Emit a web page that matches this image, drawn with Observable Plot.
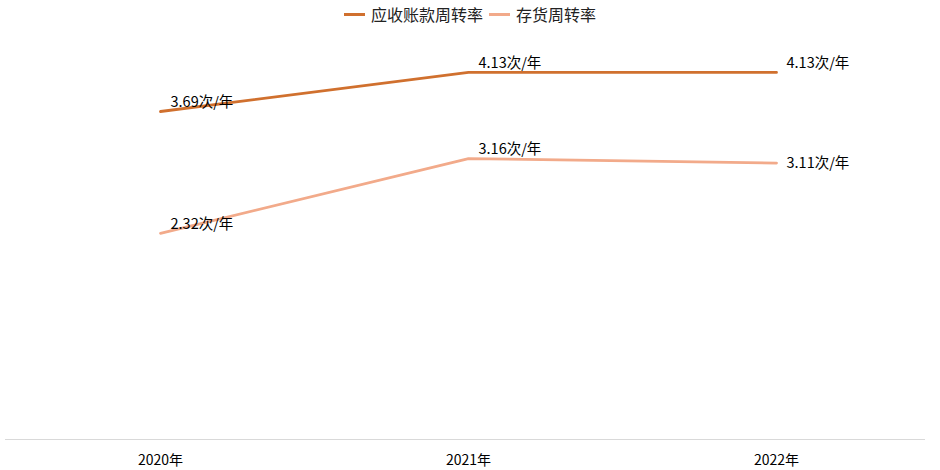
<!DOCTYPE html>
<html><head><meta charset="utf-8">
<script src="https://cdn.jsdelivr.net/npm/d3@7"></script>
<script src="https://cdn.jsdelivr.net/npm/@observablehq/plot@0.6"></script>
<style>
body{margin:0;background:#fff;font-family:"Noto Sans CJK SC","Noto Sans",sans-serif;}
#legend{height:28px;display:flex;justify-content:center;align-items:center;font-size:16px;color:#222;gap:6px;padding-left:0px}
.sw{display:inline-block;width:21px;height:3px;margin-right:6px;vertical-align:middle}
.item{display:flex;align-items:center}
</style></head><body>
<div id="legend"></div>
<div id="chart"></div>
<script>
const years = ["2020年","2021年","2022年"];
const seriesNames = ["应收账款周转率","存货周转率"];
const receivableTurnover = [3.69, 4.13, 4.13];
const inventoryTurnover = [2.32, 3.16, 3.11];
const colors = ["#D0702E","#F2AA8A"];

const data = [];
years.forEach((y,i)=>data.push({year:y, series:seriesNames[0], value:receivableTurnover[i]}));
years.forEach((y,i)=>data.push({year:y, series:seriesNames[1], value:inventoryTurnover[i]}));

const lg = document.getElementById("legend");
seriesNames.forEach((n,i)=>{
  const d=document.createElement("span");d.className="item";
  d.innerHTML=`<span class="sw" style="background:${colors[i]}"></span>${n}`;
  lg.appendChild(d);
});

const labelsMain = data.filter(d=>!(d.series===seriesNames[1] && d.year===years[2]));
const labelsCentered = data.filter(d=>(d.series===seriesNames[1] && d.year===years[2]));

const chart = Plot.plot({
  width: 940,
  height: 442,
  marginLeft: 5,
  marginRight: 15,
  marginTop: 11,
  marginBottom: 31,
  style:{fontFamily:'"Noto Sans CJK SC","Noto Sans",sans-serif', fontSize:"14px", color:"#000"},
  x:{type:"point", domain:years, range:[160,776], padding:0, label:null, tickSize:0, tickPadding:16},
  y:{domain:[0,4.5], axis:null},
  color:{domain:seriesNames, range:colors},
  marks:[
    Plot.ruleY([0],{stroke:"#D9D9D9", strokeWidth:1}),
    Plot.line(data,{x:"year", y:"value", z:"series", stroke:"series", strokeWidth:2.8}),
    Plot.text(labelsMain,{x:"year", y:"value", text:d=>d.value.toFixed(2)+"次/年", textAnchor:"start", dx:10, dy:-9, fill:"#000", fontSize:14.5}),
    Plot.text(labelsCentered,{x:"year", y:"value", text:d=>d.value.toFixed(2)+"次/年", textAnchor:"start", dx:10, dy:0, fill:"#000", fontSize:14.5})
  ]
});
document.getElementById("chart").appendChild(chart);
</script>
</body></html>
